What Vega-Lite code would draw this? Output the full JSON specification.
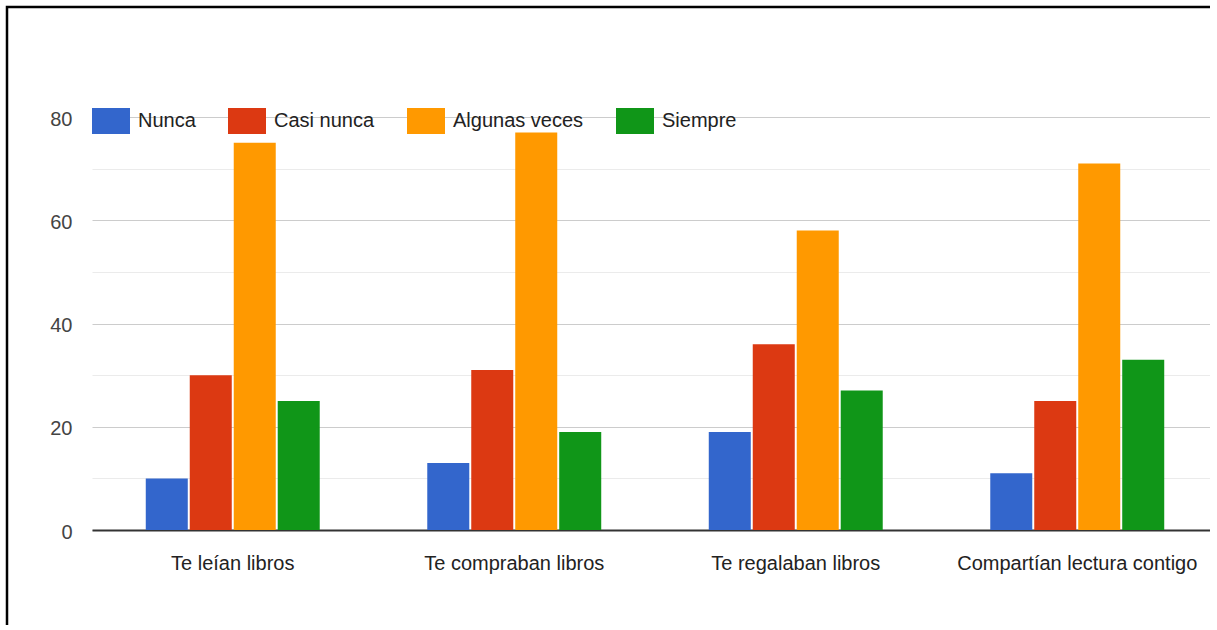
{
  "$schema": "https://vega.github.io/schema/vega-lite/v6.json",
  "width": 1203,
  "height": 618,
  "autosize": {"type": "none"},
  "padding": {"left": 7, "top": 7, "right": 0, "bottom": 0},
  "background": "white",
  "view": {"stroke": "black", "strokeWidth": 2.5, "strokeDash": [1203, 1821, 618], "fill": "white"},
  "config": {
    "font": "Liberation Sans"
  },
  "data": {
    "values": [
      {"cat": "Te leían libros", "serie": "Nunca", "value": 10},
      {"cat": "Te leían libros", "serie": "Casi nunca", "value": 30},
      {"cat": "Te leían libros", "serie": "Algunas veces", "value": 75},
      {"cat": "Te leían libros", "serie": "Siempre", "value": 25},
      {"cat": "Te compraban libros", "serie": "Nunca", "value": 13},
      {"cat": "Te compraban libros", "serie": "Casi nunca", "value": 31},
      {"cat": "Te compraban libros", "serie": "Algunas veces", "value": 77},
      {"cat": "Te compraban libros", "serie": "Siempre", "value": 19},
      {"cat": "Te regalaban libros", "serie": "Nunca", "value": 19},
      {"cat": "Te regalaban libros", "serie": "Casi nunca", "value": 36},
      {"cat": "Te regalaban libros", "serie": "Algunas veces", "value": 58},
      {"cat": "Te regalaban libros", "serie": "Siempre", "value": 27},
      {"cat": "Compartían lectura contigo", "serie": "Nunca", "value": 11},
      {"cat": "Compartían lectura contigo", "serie": "Casi nunca", "value": 25},
      {"cat": "Compartían lectura contigo", "serie": "Algunas veces", "value": 71},
      {"cat": "Compartían lectura contigo", "serie": "Siempre", "value": 33}
    ]
  },
  "mark": {"type": "bar"},
  "encoding": {
    "x": {
      "field": "cat",
      "type": "nominal",
      "sort": ["Te leían libros", "Te compraban libros", "Te regalaban libros", "Compartían lectura contigo"],
      "scale": {"range": [85, 1211], "paddingInner": 0.382, "paddingOuter": 0.191},
      "axis": {
        "title": null,
        "orient": "bottom",
        "offset": -95,
        "domainColor": "#333333",
        "domainWidth": 2,
        "ticks": false,
        "grid": false,
        "labelAngle": 0,
        "labelFontSize": 20,
        "labelColor": "#222222",
        "labelPadding": 23,
        "labelLimit": 400
      }
    },
    "xOffset": {
      "field": "serie",
      "type": "nominal",
      "sort": ["Nunca", "Casi nunca", "Algunas veces", "Siempre"],
      "scale": {"paddingInner": 0.045}
    },
    "y": {
      "field": "value",
      "type": "quantitative",
      "scale": {"domain": [0, 80], "range": [523, 110], "nice": false},
      "axis": {
        "title": null,
        "offset": -85,
        "domain": false,
        "ticks": false,
        "values": [0, 10, 20, 30, 40, 50, 60, 70, 80],
        "labelExpr": "datum.value % 20 === 0 ? datum.label : ''",
        "gridColor": {"condition": {"test": "datum.value % 20 === 0", "value": "#cccccc"}, "value": "#ebebeb"},
        "gridWidth": 1,
        "labelFontSize": 20,
        "labelColor": "#444444",
        "labelPadding": 20,
        "labelOffset": 2
      }
    },
    "color": {
      "field": "serie",
      "type": "nominal",
      "scale": {
        "domain": ["Nunca", "Casi nunca", "Algunas veces", "Siempre"],
        "range": ["#3366cc", "#dc3912", "#ff9900", "#109618"]
      },
      "legend": {
        "title": null,
        "orient": "none",
        "direction": "horizontal",
        "legendX": 85,
        "legendY": 95,
        "symbolType": "M-1,-0.684H1V0.684H-1Z",
        "symbolSize": 1444,
        "symbolStrokeWidth": 0,
        "symbolOpacity": 1,
        "labelFontSize": 20,
        "labelColor": "#222222",
        "labelOffset": 8,
        "columnPadding": 32,
        "padding": 0,
        "labelLimit": 300
      }
    }
  }
}
